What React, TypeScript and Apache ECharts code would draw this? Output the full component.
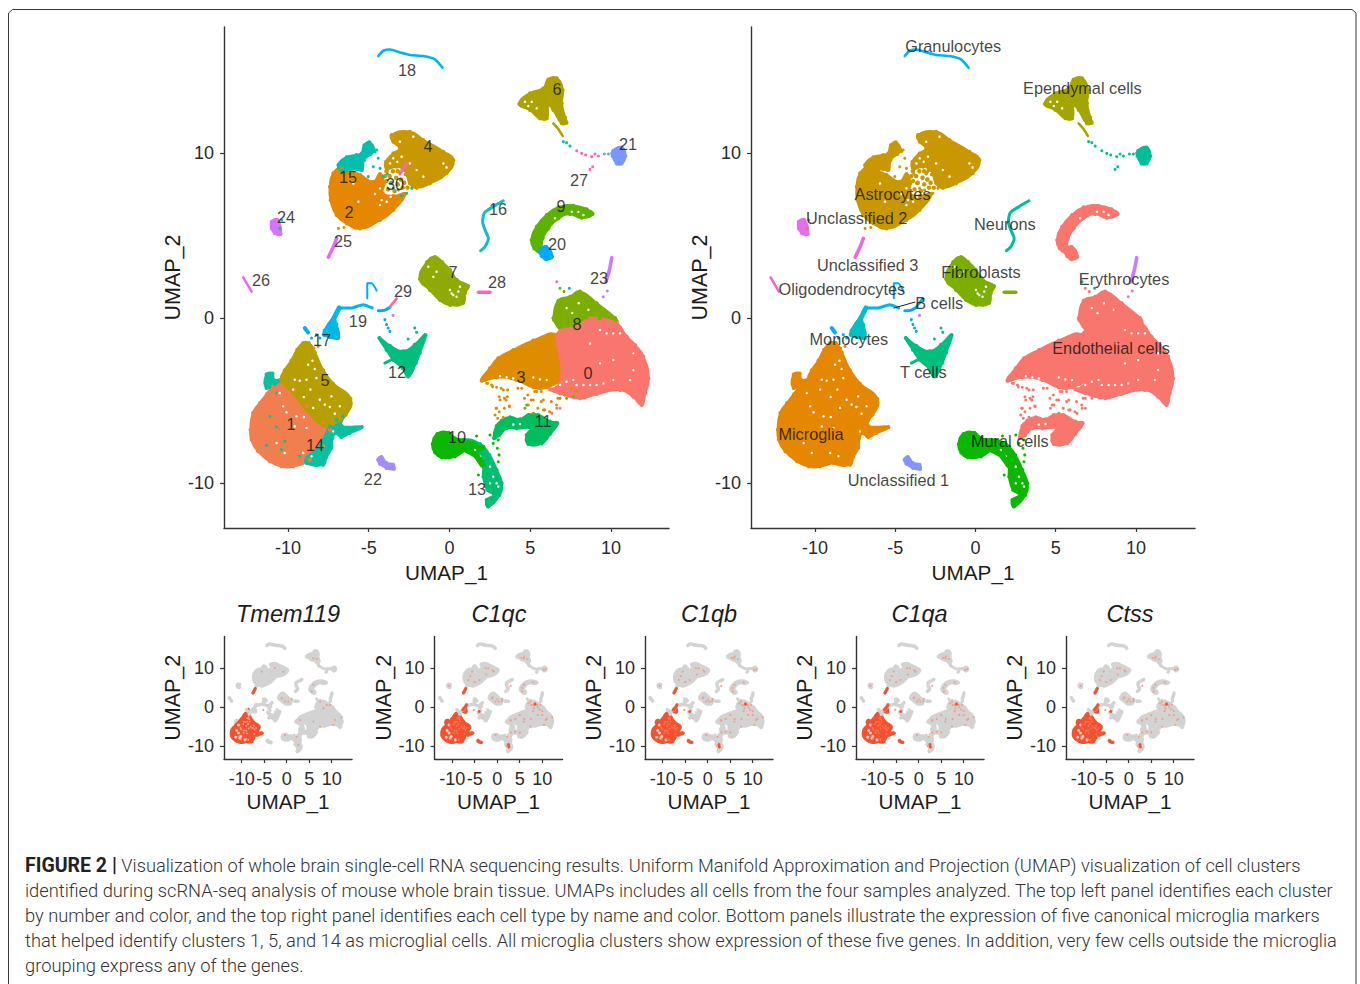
import React, { useEffect, useRef } from "react";
import * as echarts from "echarts";

type P = number[];

// ---- cell-cluster outlines (UMAP_1, UMAP_2) ----
const c0 = [[6.64,-1.13],[6.88,-0.77],[7.87,-0.53],[8.7,-0.02],[9.53,-0.08],[10.35,-0.32],[10.97,-1.13],[11.49,-1.64],[12,-2.34],[12.32,-3.66],[12.11,-4.57],[11.9,-5.27],[11.38,-4.77],[10.56,-4.36],[9.11,-4.61],[8.08,-4.87],[6.84,-4.57],[6.22,-4.32],[6.64,-4.2],[6.94,-3.56],[6.84,-2.34]];
const c1 = [[-12.32,-6.77],[-12.16,-5.76],[-11.74,-5.15],[-11.3,-4.6],[-10.92,-4.14],[-10.4,-3.74],[-9.68,-4.34],[-8.85,-5.35],[-7.82,-6.36],[-7.41,-6.77],[-7.82,-7.78],[-8.65,-8.59],[-9.68,-8.99],[-10.4,-8.99],[-11.12,-8.69],[-11.85,-8.08],[-12.26,-7.37]];
const c2 = [[-7.19,8.77],[-6.68,9.07],[-5.54,8.67],[-4.72,8.26],[-4.3,8.73],[-4.06,8.16],[-4.14,7.56],[-3.48,7.39],[-2.76,7.52],[-3.48,6.55],[-4.3,5.94],[-5.54,5.43],[-6.37,5.74],[-6.99,6.24],[-7.36,7.15],[-7.4,7.96]];
const c3 = [[1.99,-3.8],[2.51,-3.05],[3.02,-2.44],[3.95,-1.94],[5.19,-1.37],[6.64,-1.03],[6.84,-2.34],[6.94,-3.56],[6.02,-4.2],[5.19,-4.2],[4.16,-3.76],[2.92,-3.6]];
const c4 = [[-3.58,11.09],[-2.45,11.29],[-1.62,10.79],[-0.38,10.08],[0.24,9.58],[-0.18,8.77],[-1.21,8.16],[-2.03,7.9],[-2.45,8.16],[-2.76,8.97],[-3.27,9.17],[-3.89,9.07],[-3.93,9.47],[-3.48,9.98],[-3.07,10.28],[-3.48,10.69]];
const c5 = [[-9.06,-1.52],[-8.71,-1.52],[-8.34,-2.08],[-7.82,-3.17],[-7.2,-3.98],[-6.13,-4.89],[-6.42,-5.86],[-7.2,-6.4],[-7.82,-6.53],[-8.85,-5.56],[-9.68,-4.55],[-10.4,-3.74],[-10.2,-3.17],[-9.78,-2.57],[-9.43,-1.92]];
const c6 = [[4.32,12.97],[4.98,13.62],[5.81,13.92],[6.12,14.46],[6.64,14.53],[7.01,13.82],[6.95,13.01],[7.15,12.16],[7.25,11.84],[6.95,11.8],[6.43,12.61],[6.12,12.91],[6.02,12.1],[5.6,12.1],[4.98,12.61]];
const c7 = [[-1.83,2.36],[-1.39,3.39],[-0.9,3.7],[-0.46,3.39],[0.03,2.91],[0.46,2.3],[1.15,1.94],[0.96,1.52],[0.84,0.91],[0.03,0.79],[-0.59,1.09],[-1.21,1.7]];
const c8 = [[6.43,0],[6.74,1.05],[7.46,1.29],[8.08,1.6],[9.11,0.89],[10.25,0],[10.35,-0.22],[9.32,-0.02],[8.49,0.04],[7.88,-0.63],[6.84,-0.63],[6.47,-0.12]];
const c9 = [[5.09,4.73],[5.4,5.54],[6.02,6.24],[6.74,6.71],[7.67,6.81],[8.49,6.59],[8.86,6.3],[8.18,6.08],[7.46,6.3],[6.74,6.04],[6.12,5.43],[5.77,4.83],[5.6,4.02],[5.25,4.22]];
const c10 = [[-1.04,-7.64],[-0.75,-7.03],[-0.07,-6.95],[0.34,-7.29],[0.86,-7.39],[1.48,-7.6],[2.1,-7.8],[1.58,-8.1],[1.06,-8],[0.34,-8.4],[-0.48,-8.44],[-0.89,-8.16]];
const c11 = [[2.76,-7.29],[2.92,-6.55],[3.23,-6.22],[3.75,-6.02],[4.36,-6.14],[4.88,-5.88],[5.5,-5.88],[6.22,-6.28],[6.68,-6.38],[6.22,-7.03],[5.71,-7.6],[4.88,-7.64],[4.78,-7.09],[5.09,-6.69],[4.16,-6.69],[3.54,-6.69],[3.09,-7.09]];
const c12 = [[-4.35,-1.21],[-3.69,-1.68],[-2.87,-2.02],[-2.15,-1.62],[-1.49,-1.03],[-1.84,-2.12],[-2.08,-2.73],[-2.56,-3.54],[-2.91,-3.03],[-3.49,-2.53],[-3.9,-1.92]];
const c13 = [[0.96,-7.39],[1.89,-7.64],[2.47,-8.3],[2.92,-9.21],[3.23,-10.02],[3.09,-10.73],[2.4,-11.43],[2.3,-11.03],[2.76,-10.73],[2.35,-10.42],[2.1,-9.62],[2.05,-8.81],[1.58,-8.3],[1.06,-7.9]];
const c14 = [[-7.41,-6.57],[-7,-6.2],[-6.58,-5.96],[-6.69,-6.53],[-5.43,-6.61],[-6.17,-6.97],[-6.69,-7.21],[-7.04,-6.97],[-7.24,-7.27],[-7.31,-7.88],[-7.62,-8.42],[-7.82,-8.89],[-8.85,-8.79],[-8.85,-8.48],[-8.24,-7.98],[-7.82,-7.37]];
const c14b = [[-11.33,-3.43],[-10.96,-3.37],[-10.88,-3.74],[-10.4,-3.74],[-10.81,-3.98],[-11.33,-4.24]];
const c15 = [[-6.88,9.27],[-6.37,9.74],[-5.75,9.88],[-5.44,9.98],[-5.27,10.48],[-4.96,10.65],[-4.67,10.18],[-4.88,9.94],[-5.29,9.58],[-5.42,8.97],[-5.75,9.03],[-6.68,8.93]];
const c17 = [[-7.72,-0.75],[-7.2,-0.06],[-7,-0.4],[-6.89,-1.21],[-7.41,-1.15],[-7.78,-1.01]];
const c20 = [[5.6,4.02],[5.98,4.32],[6.35,3.72],[5.98,3.56],[5.71,3.76]];
const c21 = [[10.14,10.14],[10.66,10.34],[10.89,9.82],[10.66,9.37],[10.35,9.37],[10.1,9.82]];
const c22 = [[-4.42,-8.59],[-4.21,-8.42],[-3.9,-8.79],[-3.49,-8.89],[-3.45,-9.15],[-3.9,-9.09],[-4.31,-8.83]];
const c24 = [[-11.01,5.84],[-10.66,5.94],[-10.45,5.09],[-10.81,5.13],[-11.01,5.43]];

// ---- thin strands ----
const s6tail = [[6.43,11.8],[6.7,11.5],[7.01,11.03]];
const s10arm = [[1.06,-8],[1.6,-8.3],[2.05,-8.9]];
const s12arm = [[-4,-2.73],[-3.59,-2.53]];
const s16 = [[3.33,7.11],[2.71,6.75],[2.16,6.38],[2.05,5.84],[2.2,5.33],[2.41,4.83],[2.2,4.32],[1.93,4.08]];
const s17bit = [[-8.96,-0.61],[-8.76,-0.87]];
const s18 = [[-4.41,15.88],[-4.1,16.2],[-3.68,16.28],[-3.06,16.1],[-2.45,15.94],[-1.62,15.88],[-0.9,15.68],[-0.43,15.17]];
const s19a = [[-7.62,-0.71],[-7.2,-0.1],[-6.83,0.61]];
const s19b = [[-6.83,0.61],[-6.07,0.61],[-5.35,0.81],[-4.79,0.61]];
const s19hook = [[-5.09,1.19],[-5.09,2.1],[-4.82,2.1],[-4.51,1.66]];
const s19c = [[-4.41,0.44],[-4,0.48],[-3.68,0.65]];
const s23 = [[10.05,3.66],[9.9,2.91],[9.69,2.2]];
const s25 = [[-6.99,4.83],[-7.19,4.32],[-7.5,3.68]];
const s26 = [[-12.77,2.46],[-12.25,1.6]];
const s28 = [[1.79,1.56],[2.51,1.56]];
const s29 = [[-3.68,0.69],[-3.27,1.19]];
const s30 = [[-3.07,8.73],[-2.65,9.37]];

// ---- loose cells ----
const loose3 = [[2.3,-3.96],[2.61,-4.06],[2.92,-4.2],[3.33,-4.36],[3.58,-4.77],[3.13,-4.97],[2.92,-5.47],[2.82,-5.88],[3.33,-6.02],[3.7,-5.33],[3.5,-4.97],[4.47,-4.26],[5.4,-4.46],[5.19,-4.97],[4.88,-5.27],[5.81,-4.97],[5.6,-4.26],[5.81,-5.58]];
const loose3b = [[2.36,-3.96],[2.67,-4.16],[3.19,-4.26],[3.6,-4.36],[4.23,-4.26],[3.4,-4.87],[3.08,-4.77],[2.88,-5.47],[3.08,-5.68],[3.4,-5.47],[3.71,-5.37],[2.98,-6.08],[4.85,-4.67],[5.27,-4.46],[5.68,-5.07],[5.47,-5.47],[5.89,-5.57],[6.3,-5.07],[6.71,-4.87],[7.13,-4.67],[7.55,-4.26],[7.96,-4.46],[5.06,-4.97],[6.2,-5.68],[6.62,-5.27],[5.68,-4.46],[4.64,-4.87]];
const loose0 = [[6.43,-4.4],[6.64,-5.47],[6.33,-5.78],[6.84,-5.47]];
const loose8 = [[6.84,-4.87],[7.25,-4.87],[7.67,-4.77],[4.78,-5.27],[4.67,-5.47],[5.19,-5.78],[6.84,1.8],[7.09,1.6]];
const loose10 = [[3.02,-7.39],[2.96,-7.9],[3.07,-8.3],[3.02,-8.71],[2.71,-7.6],[2.51,-7.09],[1.68,-7.15],[1.79,-9.52]];
const loose12 = [[-2.15,-0.61],[-2.04,-0.87],[-2.56,-1.27]];
const loose15 = [[-4.3,9.07],[-4.1,8.57],[-3.85,8.73],[-3.68,8.16],[-3.48,7.86],[-3.17,7.76],[-2.96,7.41],[-2.65,7.56],[-2.34,7.86],[-4.72,9.17],[-5.03,8.57],[-4.61,10.08],[-4.41,9.68],[-4.51,10.18],[-10.39,5.94],[-10.5,5.43]];
const loose4 = [[-3.9,8.9],[-3.7,8.6],[-3.5,8.9],[-3.9,8.3],[-3.6,8.2],[-3.3,8.5],[-3.2,8.1],[-3,8.4],[-2.8,8.2],[-3.4,7.7],[-2.9,7.9],[-2.6,7.9],[-2.4,8.3],[-3.8,7.8],[-4,8.6],[-2.7,8.7],[-2.9,9],[-3.2,8.9]];
const loose14 = [[-10.71,-4.55],[-11.12,-5.96],[-10.71,-6.61],[-11.33,-7.72],[-10.4,-7.98],[-10.2,-7.47],[-9.27,-8.38]];
const loose17 = [[-8.54,-1.21],[-8.24,-1.01],[-8.03,-1.21]];
const loose5 = [[-8.4,-1.82],[-8.13,-1.72]];
const loose2 = [[-6.88,5.43],[-6.53,5.49]];
const loose19 = [[-4,-0.1],[-3.9,-0.4],[-3.8,-0.61],[-3.69,-0.81],[7.42,1.8]];
const loose21 = [[9.59,9.94],[9.84,9.94],[10.04,9.98]];
const loose16 = [[7.05,10.69],[7.25,10.63],[7.46,10.42]];
const loose27 = [[7.87,10.14],[8.18,9.98],[8.43,9.88],[8.8,9.78],[9.01,9.94],[9.22,9.82],[8.86,9.17],[8.7,9.01],[6.64,2.2]];
const loose23 = [[9.77,1.64],[9.52,1.29],[-3.49,0.16]];

// ---- gaps inside the big groups ----
const gapsMicroglia = [[-9.58,-3.74],[-9.27,-3.8],[-8.85,-3.74],[-8.75,-2.83],[-8.48,-2.59],[-8.34,-3.09],[-8.24,-3.64],[-8.61,-4.34],[-9.02,-4.79],[-8.03,-4.95],[-7.41,-5.39],[-7.1,-5.8],[-7.72,-5.25],[-10.09,-5.72],[-9.02,-6],[-8.85,-6.67],[-9.58,-6.57],[-10.3,-5.35],[-10.51,-4.55],[-9.68,-4.34],[-7.31,-4.75],[-6.79,-5.35],[-8.44,-5.45],[-9.47,-5.96],[-10.71,-7.58],[-10.2,-8.18],[-7.2,-6.87],[-9.06,-8.18],[-8.54,-8.38]];
const gapsAstro = [[-3.48,9.68],[-3.68,9.37],[-3.23,9.47],[-2.96,9.78],[-2.45,9.37],[-2.03,8.97],[-1.62,8.57],[-0.38,9.37],[-0.18,9.13],[-2.24,10.99],[-2.76,8.53],[-4.2,7.15],[-3.89,7.05],[-3.64,7.35],[-4.3,6.85],[-5.64,7.05],[-4.61,7.52],[-4.3,7.86],[-5.95,8.16],[-3.07,10.69]];
const gapsOther = [[-1.31,3.11],[-0.8,2.81],[-1,2.5],[0.03,1.7],[0.24,1.39],[0.55,1.6],[0.13,1.49],[0.44,1.29],[0.65,1.9],[4.67,13.11],[5.09,13.11],[4.88,12.85],[5.4,12.71],[7.57,6.44],[7.98,6.44],[8.29,6.24],[6.53,6.04]];
const gapsEndothelial = [[7.87,-4.06],[8.29,-4.06],[8.7,-4.06],[9.11,-4.06],[9.53,-3.96],[10.14,-3.76],[11.18,-3.76],[6.84,-4.06],[7.25,-3.86],[7.67,-3.76],[10.56,-0.93],[10.14,-0.93],[9.73,-0.93],[9.32,-0.73],[9.32,-2.75],[10.14,-2.55],[11.38,-3.15],[11.38,-2.14],[8.7,-1.54],[5.19,-3.6],[5.6,-3.72],[6.02,-3.76],[3.95,-3.66],[3.54,-3.6],[3.13,-3.52],[7.25,0.6],[7.6,0.3],[8,0.9],[8.6,0.5]];
const gapsMural = [[2.71,-9.62],[2.92,-10.02],[2.51,-9.01],[1.89,-8.4],[1.58,-8],[3.02,-10.22],[2.51,-10.02],[4.36,-6.42],[3.95,-6.46]];

// ---- labels ----
const clusterLabels: [string, number, number][] = [["18",-2.63,15.03],["6",6.66,13.88],["4",-1.33,10.42],["21",11.05,10.55],["15",-6.28,8.55],["30",-3.37,8.12],["27",8.02,8.36],["2",-6.22,6.42],["16",3,6.61],["9",6.9,6.79],["24",-10.12,6.12],["25",-6.59,4.67],["20",6.66,4.48],["26",-11.67,2.3],["7",0.22,2.79],["28",2.94,2.18],["23",9.26,2.42],["29",-2.88,1.64],["19",-5.67,-0.18],["8",7.89,-0.36],["17",-7.89,-1.33],["12",-3.25,-3.27],["5",-7.71,-3.76],["3",4.43,-3.58],["0",8.58,-3.33],["1",-9.81,-6.42],["11",5.79,-6.24],["10",0.46,-7.21],["14",-8.33,-7.7],["22",-4.74,-9.76],["13",1.7,-10.36]];
const typeLabels: [string, number, number][] = [["Granulocytes",-1.39,16.5],["Ependymal cells",6.66,13.97],["Astrocytes",-5.17,7.53],["Unclassified 2",-7.4,6.08],["Neurons",1.83,5.67],["Unclassified 3",-6.72,3.24],["Fibroblasts",0.34,2.76],["Erythrocytes",9.26,2.39],["Oligodendrocytes",-8.33,1.73],["B cells",-2.26,0.91],["Monocytes",-7.89,-1.27],["Endothelial cells",8.45,-1.82],["T cells",-3.25,-3.27],["Microglia",-10.25,-7.06],["Mural cells",2.14,-7.48],["Unclassified 1",-4.8,-9.79]];
const bCellLeader = [[-5.11,0.6],[-3.75,0.97]];

// ---- expression dots on the feature plots ----
const faintAll = [[6.67,12.37],[5.9,12.6],[-5.56,9.19],[-2.6,10.05],[-0.74,9.19],[-1.11,2.32],[0.37,1.46],[1.1,2.06],[-0.37,1.46],[1.85,1.72],[7.4,1.46],[8.89,0.6],[9.6,0.6],[8.15,-0.26],[10.74,-3.26],[5.93,-3.69],[2.96,-3.26],[2.59,-9.7],[1.85,-8.85],[2.2,-7.56],[-0.37,-7.13],[5.93,5.76],[5.56,4.04],[10.37,-4.55],[7.4,-4.98],[12.2,-2.58],[-5.19,-0.69]];
const faintC1q = [[-6,8],[-4,7],[-3,9],[-2,10],[-1,9.5],[-5,6.5],[-6.4,7],[-2.4,8.4],[8,-1],[9,-2],[10,-2],[7,1],[8,0.5],[9,0],[10,-1],[11,-3],[7.5,-3],[6,-3],[4,-3],[5,-2],[3,-3.5],[5,-6.5],[4,-6.3],[2,-10],[1,-7.8],[3,-6.5],[0,2],[-1,2.5],[1,1.5],[5.5,5],[8,6.4],[10.8,9.8],[10.3,9.6],[-10.7,5.5],[-3,15.9],[-1.5,15.8],[6,13],[5.4,12.7],[3,5.5],[2.2,5],[7.6,0.6],[8.4,1.1],[9.4,-0.6]];
const strongTmem = [[-8.52,-0.52],[-3.56,-2.55]];
const strongC1q = [[-3.56,-2.55],[2.5,-9.6],[2.6,-10.2],[8.4,0.8],[-4,-1.1]];

const geneTitles = ["Tmem119", "C1qc", "C1qb", "C1qa", "Ctss"];
const expressingC1q = [c1, c5, c14, c14b, c17];
const tickLabelsX = [-10, -5, 0, 5, 10];
const tickLabelsY = [-10, 0, 10];

const captionLead = "FIGURE 2 |";
const captionLines = [
  " Visualization of whole brain single-cell RNA sequencing results. Uniform Manifold Approximation and Projection (UMAP) visualization of cell clusters",
  "identified during scRNA-seq analysis of mouse whole brain tissue. UMAPs includes all cells from the four samples analyzed. The top left panel identifies each cluster",
  "by number and color, and the top right panel identifies each cell type by name and color. Bottom panels illustrate the expression of five canonical microglia markers",
  "that helped identify clusters 1, 5, and 14 as microglial cells. All microglia clusters show expression of these five genes. In addition, very few cells outside the microglia",
  "grouping express any of the genes.",
];

// palette: left panel colour, right panel colour
const END = "#F8766D", MIC = "#E58700", AST = "#C99800", EPE = "#A3A500", FIB = "#7CAE00", MUR = "#0CB702", TCE = "#00BF7D", NEU = "#00BE9A", MON = "#00BFC4", GRA = "#00B4EF", BCE = "#00A9FF", UN1 = "#8494FF", ERY = "#C77CFF", UN2 = "#E76BF3", UN3 = "#F564E3", OLI = "#F564C8";

const regions: [P[], string, string][] = [
  [c3, "#DE8C00", END], [c8, "#7CAE00", END], [c0, END, END], [c11, "#00BD5F", END],
  [c4, AST, AST], [c2, MIC, AST], [c15, "#00BFAD", AST],
  [c1, "#F17E4F", MIC], [c14, "#0BBFA0", MIC], [c14b, "#0BBFA0", MIC], [c5, "#B79F00", MIC],
  [c6, "#AEA200", EPE], [c7, "#8FAA00", FIB], [c9, "#5BB300", END], [c20, BCE, END],
  [c13, "#00BE70", MUR], [c10, MUR, MUR], [c12, TCE, TCE], [c17, "#00B8E7", MON],
  [c21, "#7997FF", NEU], [c22, "#A58AFF", UN1], [c24, "#D575FE", UN2],
];
const strands: [P[], string, string, number][] = [
  [s6tail, "#AEA200", EPE, 2.5], [s10arm, MUR, MUR, 6], [s12arm, TCE, TCE, 3], [s16, "#12BDC4", NEU, 3],
  [s17bit, "#00B0F6", BCE, 4], [s18, GRA, GRA, 2.6], [s19a, "#00B8E7", MON, 5], [s19b, "#00B4EF", GRA, 3],
  [s19hook, "#00A9FF", BCE, 2], [s19c, "#00A9FF", BCE, 3], [s23, ERY, ERY, 3.5], [s25, "#E76BF3", UN3, 3.5],
  [s26, "#EE67E6", OLI, 2.5], [s28, "#FF62BC", FIB, 3.5], [s29, "#FF6A98", BCE, 2.5], [s30, "#FF62BC", AST, 3],
];
const looseGroups: [P[], string, string, number][] = [
  [loose3, "#DE8C00", END, 3], [loose3b, "#DE8C00", END, 3], [loose0, END, END, 3], [loose8, "#6BB100", END, 3], [loose10, MUR, MUR, 3],
  [loose12, TCE, TCE, 3], [loose4, AST, AST, 4.5], [loose15, "#00C1AA", AST, 3], [loose14, "#0BBFA0", MIC, 3], [loose17, "#00B0F6", BCE, 3],
  [loose5, "#D89000", MIC, 3], [loose2, MIC, MIC, 3], [loose19, BCE, BCE, 3], [loose21, "#7997FF", NEU, 3],
  [loose16, "#00BFAD", NEU, 3], [loose27, "#FF62BC", NEU, 3], [loose23, ERY, ERY, 3],
];
const gapGroups = [gapsMicroglia, gapsAstro, gapsOther, gapsEndothelial, gapsMural];

function polygonSeries(pts: P[], color: string, axis: number, width: number) {
  return {
    type: "custom", coordinateSystem: "cartesian2d", xAxisIndex: axis, yAxisIndex: axis, silent: true,
    data: pts, encode: { x: 0, y: 1 }, clip: false,
    renderItem: (params: any, api: any) =>
      params.dataIndex !== 0 ? null : {
        type: "polygon",
        shape: { points: pts.map((p) => api.coord(p)), smooth: 0.5 },
        style: { fill: color, stroke: color, lineWidth: width, lineJoin: "round" },
      },
  };
}
function strandSeries(pts: P[], color: string, axis: number, width: number) {
  return {
    type: "line", xAxisIndex: axis, yAxisIndex: axis, silent: true, data: pts, showSymbol: false, smooth: 0.2,
    lineStyle: { color, width, cap: "round", join: "round" },
  };
}
function dotSeries(pts: P[], color: string, axis: number, size: number) {
  return {
    type: "scatter", xAxisIndex: axis, yAxisIndex: axis, silent: true, data: pts, symbolSize: size,
    itemStyle: { color, opacity: 1 },
  };
}
function labelSeries(labels: [string, number, number][], axis: number) {
  return {
    type: "scatter", xAxisIndex: axis, yAxisIndex: axis, silent: true, z: 10, symbolSize: 1,
    itemStyle: { color: "transparent" },
    data: labels.map(([name, x, y]) => ({ name, value: [x, y] })),
    label: { show: true, position: "inside", formatter: "{b}", color: "#111111", fontSize: 16.3, fontFamily: "Liberation Sans" },
  };
}

function topPanel(axis: number, col: 1 | 2) {
  const out: any[] = [];
  regions.forEach((r) => {
    out.push(polygonSeries(r[0], r[col] as string, axis, 2.5));
    out.push(dotSeries(r[0], r[col] as string, axis, 4));
  });
  strands.forEach((s) => out.push(strandSeries(s[0], s[col] as string, axis, s[3])));
  looseGroups.forEach((g) => out.push(dotSeries(g[0], g[col] as string, axis, g[3])));
  gapGroups.forEach((g) => out.push(dotSeries(g, "#ffffff", axis, 2.5)));
  return out;
}

function featurePanel(axis: number, gene: string) {
  const out: any[] = [];
  const grey = "#D3D3D3";
  regions.forEach((r) => out.push(polygonSeries(r[0], grey, axis, 3)));
  strands.forEach((s) => out.push(strandSeries(s[0], grey, axis, 3.5)));
  looseGroups.forEach((g) => out.push(dotSeries(g[0], grey, axis, 3)));
  const red = "#F4512F";
  const isTmem = gene === "Tmem119";
  const hot = isTmem ? [c1, c5, c14] : expressingC1q;
  hot.forEach((h) => out.push(polygonSeries(h, red, axis, 3)));
  out.push(strandSeries(s25, red, axis, 3));
  if (!isTmem) out.push(strandSeries(s19a, red, axis, 3));
  if (!isTmem) out.push(polygonSeries(c22, red, axis, 2));
  out.push(dotSeries(gapsMicroglia, isTmem ? "#FAA08A" : "#F8775A", axis, 1.8));
  out.push(dotSeries(faintAll, "#F0A18E", axis, 2.2));
  if (!isTmem) out.push(dotSeries(faintC1q, "#F0A18E", axis, 2.2));
  out.push(dotSeries(isTmem ? strongTmem : strongC1q, red, axis, 3));
  return out;
}

const axisColor = "#333333";
function axis(kind: "x" | "y", idx: number, min: number, max: number, ticks: number[], name: string, gap: number, labelDrop = 0) {
  return {
    type: "value", gridIndex: idx, min, max, name, nameLocation: "middle", nameGap: gap,
    nameTextStyle: { fontSize: kind === "y" ? 21.5 : 20.7, color: "#1c1c1c", fontFamily: "Liberation Sans" },
    splitLine: { show: false },
    axisLine: { show: true, onZero: false, lineStyle: { color: axisColor, width: 1.4 } },
    axisTick: { show: true, length: 4, customValues: ticks, lineStyle: { color: axisColor, width: 1.2 } },
    axisLabel: { customValues: ticks, fontSize: 18, margin: kind === "x" ? 11 : 10, padding: [labelDrop, 0, 0, 0], color: "#2a2a2a", fontFamily: "Liberation Sans" },
  };
}

export default function App() {
  const ref = useRef<HTMLDivElement>(null);
  useEffect(() => {
    const chart = echarts.init(ref.current!, undefined, { renderer: "svg" });
    const smallLefts = [224, 434.5, 645, 856, 1066];
    const grid: any[] = [
      { left: 224, top: 27, width: 445, height: 501 },
      { left: 751, top: 27, width: 444, height: 501 },
      ...smallLefts.map((left) => ({ left, top: 636.5, width: 128, height: 122.5 })),
    ];
    const xAxis: any[] = [
      axis("x", 0, -13.96, 13.59, tickLabelsX, "UMAP_1", 33),
      axis("x", 1, -13.99, 13.68, tickLabelsX, "UMAP_1", 33),
      ...smallLefts.map((_, i) => axis("x", i + 2, -13.93, 14.5, tickLabelsX, "UMAP_1", 32)),
    ];
    const yAxis: any[] = [
      axis("y", 0, -12.73, 17.64, tickLabelsY, "UMAP_2", 40, 2),
      axis("y", 1, -12.73, 17.64, tickLabelsY, "UMAP_2", 40, 2),
      ...smallLefts.map((_, i) => axis("y", i + 2, -13.3, 18.2, tickLabelsY, "UMAP_2", 40, 3)),
    ];
    const series: any[] = [
      ...topPanel(0, 1),
      labelSeries(clusterLabels, 0),
      ...topPanel(1, 2),
      labelSeries(typeLabels, 1),
      { type: "line", xAxisIndex: 1, yAxisIndex: 1, silent: true, z: 9, data: bCellLeader, showSymbol: false, lineStyle: { color: "#222", width: 1 } },
      ...geneTitles.flatMap((g, i) => featurePanel(i + 2, g)),
    ];
    const titleCenters = [283, 494, 704, 914.5, 1125];
    const graphic: any[] = [
      { type: "polyline", silent: true, shape: { points: [[8.5, 984], [8.5, 13], [12.5, 9.5], [1352, 9.5], [1356, 13], [1356, 984]] }, style: { stroke: "#3a3a3a", lineWidth: 1, fill: "none" } },
      ...captionLines.map((line, i) => ({
        type: "text", silent: true, x: 25, y: 865 + i * 25.2,
        style: {
          text: i === 0 ? `{b|${captionLead}}${line}` : line,
          fontFamily: "Roboto", fontWeight: 300, fontSize: 18.3, fill: "#333333", verticalAlign: "middle", align: "left",
          rich: { b: { fontFamily: "Roboto", fontWeight: 700, fontSize: 19.5, fill: "#222222" } },
        },
      })),
    ];
    chart.setOption({
      animation: false,
      backgroundColor: "#ffffff",
      title: geneTitles.map((text, i) => ({
        text, left: titleCenters[i], top: 597, textAlign: "center",
        textStyle: { fontStyle: "italic", fontWeight: "normal", fontSize: 23.5, color: "#1c1c1c", fontFamily: "Liberation Sans" },
      })),
      grid, xAxis, yAxis, series, graphic,
    });
    return () => chart.dispose();
  }, []);
  return <div ref={ref} style={{ position: "absolute", left: 0, top: 0, width: 1360, height: 984 }} />;
}
